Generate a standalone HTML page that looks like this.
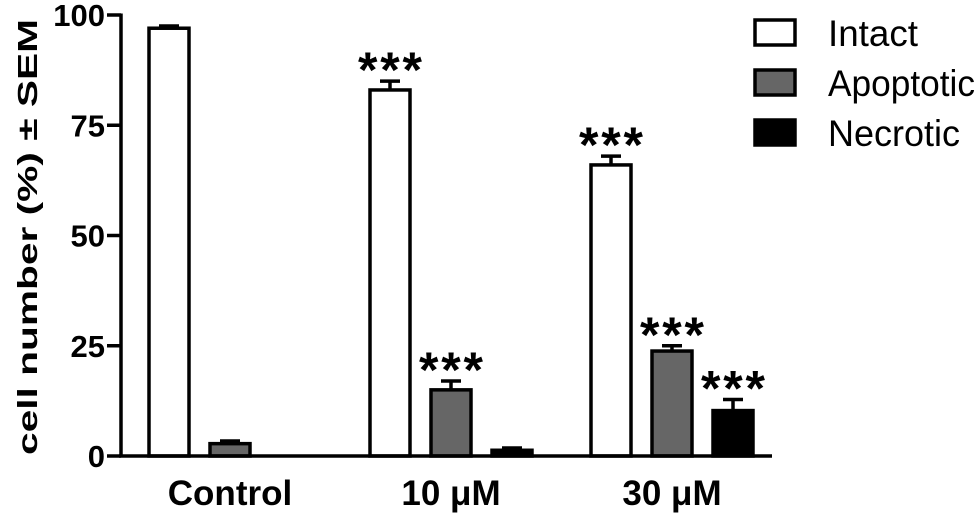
<!DOCTYPE html>
<html><head><meta charset="utf-8"><style>
body{margin:0;background:#fff}
svg text{font-family:"Liberation Sans",Arial,sans-serif}
</style></head><body>
<svg id="chart" width="980" height="518" viewBox="0 0 980 518">
<g id="plot"></g>
<text transform="translate(37,237) rotate(-90)" text-anchor="middle" font-size="28" font-weight="bold" textLength="436" lengthAdjust="spacingAndGlyphs">cell number (%) ± SEM</text>
<g>
<rect x="755" y="20" width="40" height="25" fill="#fff" stroke="#000" stroke-width="3.5"/>
<text x="828" y="46" font-size="37" textLength="90" lengthAdjust="spacingAndGlyphs">Intact</text>
<rect x="755" y="70" width="40" height="25" fill="#666" stroke="#000" stroke-width="3.5"/>
<text x="828" y="96" font-size="37" textLength="147" lengthAdjust="spacingAndGlyphs">Apoptotic</text>
<rect x="755" y="120" width="40" height="25" fill="#000" stroke="#000" stroke-width="3.5"/>
<text x="828" y="146" font-size="37" textLength="132" lengthAdjust="spacingAndGlyphs">Necrotic</text>
</g>
</svg>
<script>
const categories = ["Control", "10 μM", "30 μM"];
const seriesNames = ["Intact", "Apoptotic", "Necrotic"];
const intact = [97, 83, 66];
const apoptotic = [2.8, 15, 23.8];
const necrotic = [0, 1.3, 10.3];
const intactErr = [0.5, 2, 2];
const apoptoticErr = [0.6, 2, 1.2];
const necroticErr = [0, 0.5, 2.5];
const significance = [["", "", ""], ["***", "***", ""], ["***", "***", "***"]];
const yTicks = [0, 25, 50, 75, 100];

const NS = "http://www.w3.org/2000/svg";
const g = document.getElementById("plot");
const y0 = 456, yTop = 15, yMax = 100;
const yScale = v => y0 - (v / yMax) * (y0 - yTop);
const groupStart = 169, groupStep = 221, barStep = 61, barW = 40;
const xScale = (ci, si) => groupStart + ci * groupStep + si * barStep;
function el(tag, attrs) { const e = document.createElementNS(NS, tag); for (const k in attrs) e.setAttribute(k, attrs[k]); g.appendChild(e); return e; }

const series = [intact, apoptotic, necrotic];
const errs = [intactErr, apoptoticErr, necroticErr];
const fills = ["#fff", "#666", "#000"];
categories.forEach((c, ci) => {
  series.forEach((vals, si) => {
    const v = vals[ci]; if (v <= 0) return;
    const cx = xScale(ci, si), yv = yScale(v), ye = yScale(v + errs[si][ci]);
    if (errs[si][ci] > 0) {
      const l = el("line", {x1: cx, x2: cx, y1: ye, y2: yv, stroke: "#000", "stroke-width": 3.5});
      
      
      const cap = el("line", {x1: cx - 10, x2: cx + 10, y1: ye, y2: ye, stroke: "#000", "stroke-width": 3.5});
      
      
    }
    const r = el("rect", {x: cx - barW / 2, y: yv, width: barW, height: y0 - yv, fill: fills[si], stroke: "#000", "stroke-width": 3.5});
    
    
    if (significance[ci][si]) {
      const t = el("text", {x: cx, y: ye + 6, "text-anchor": "middle", "font-size": 50, "font-weight": "bold", textLength: 64, lengthAdjust: "spacing"});
      t.textContent = significance[ci][si];
      
      
    }
  });
  const lab = el("text", {x: xScale(ci, 1), y: 505, "text-anchor": "middle", "font-size": 35, "font-weight": "bold"});
  lab.textContent = c;
  
  
});
const ya = el("line", {x1: 121, x2: 121, y1: yTop - 1.5, y2: y0 + 1.5, stroke: "#000", "stroke-width": 3.5});


const xa = el("line", {x1: 119, x2: 772, y1: y0, y2: y0, stroke: "#000", "stroke-width": 3.5});


yTicks.forEach(t => {
  const yy = yScale(t);
  const tk = el("line", {x1: 107, x2: 121, y1: yy, y2: yy, stroke: "#000", "stroke-width": 3.5});
  
  
  const tl = el("text", {x: 105, y: yy + 11, "text-anchor": "end", "font-size": 31, "font-weight": "bold"});
  tl.textContent = t;
  
  
});
</script>
</body></html>
